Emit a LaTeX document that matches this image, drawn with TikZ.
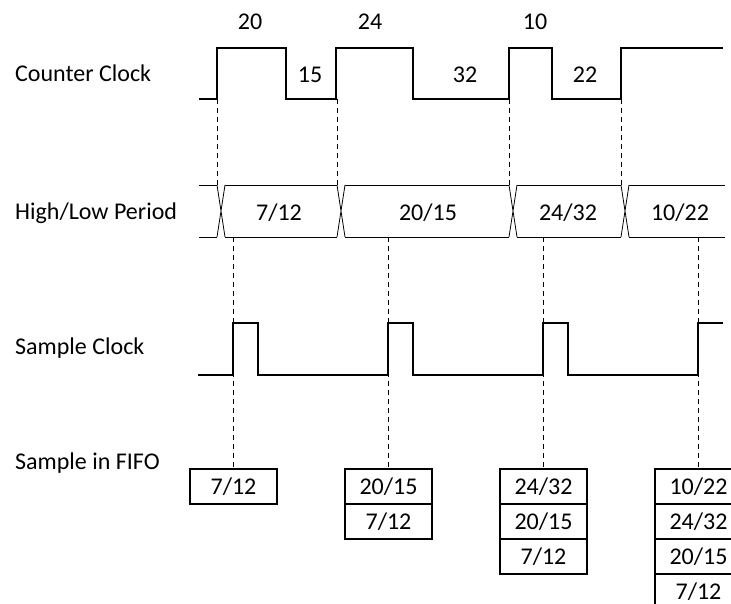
\documentclass[tikz,border=0pt]{standalone}
\usepackage{fontspec}
\setmainfont{Carlito}
\usetikzlibrary{positioning}

\begin{document}
\begin{tikzpicture}[
        x=1pt, y=-1pt,
        every node/.style={font=\fontsize{24}{27}\selectfont, inner sep=0pt},
        signame/.style={anchor=west},
        wave/.style={line width=1.7pt, line join=miter},
        bus/.style={line width=0.8pt},
        guide/.style={line width=0.7pt, dash pattern=on 5pt off 4pt},
        cell/.style={draw, line width=2.3pt, outer sep=0pt, minimum width=87pt, minimum height=35pt}
    ]
        \useasboundingbox (0,0) rectangle (731,603);
        \clip (0,0) rectangle (731,603);

        % signal names
        \node[signame] (cnt) at (15,73) {Counter Clock};
        \node[signame] (hlp) at (15,213) {High/Low Period};
        \node[signame] (smp) at (15,348) {Sample Clock};
        \node[signame] (fifo) at (15,463) {Sample in FIFO};

        % counter clock
        \draw[wave] (199,99) -- (217,99) -- (217,48) -- (286,48) -- (286,99) -- (336,99) -- (336,48)
            -- (413,48) -- (413,99) -- (509,99) -- (509,48) -- (552,48) -- (552,99) -- (621,99)
            -- (621,48) -- (723,48);
        \node (h1) at (250,22) {20};
        \node (l1) at (310,75) {15};
        \node (h2) at (370,22) {24};
        \node (l2) at (465,75) {32};
        \node (h3) at (535,22) {10};
        \node (l3) at (585,75) {22};

        % high/low period bus
        \draw[bus] (199,185) -- (217,185) (199,237) -- (217,237);
        \foreach \a/\b in {225/337, 345/509, 517/621, 629/725}
            \draw[bus] (\a,185) -- (\b,185) (\a,237) -- (\b,237);
        \foreach \x in {217,337,509,621}
            \draw[bus] (\x,185) -- (\x+8,237) (\x,237) -- (\x+8,185);
        \node (p1) at (279,213) {7/12};
        \node (p2) at (428,213) {20/15};
        \node (p3) at (568,213) {24/32};
        \node (p4) at (680,213) {10/22};

        % counter edges
        \foreach \x in {217,337,509,621}
            \draw[guide] (\x,99) -- (\x,185);

        % sample clock
        \draw[wave] (198,375) -- (233,375) -- (233,323) -- (258,323) -- (258,375) -- (388,375)
            -- (388,323) -- (413,323) -- (413,375) -- (543,375) -- (543,323) -- (568,323)
            -- (568,375) -- (698,375) -- (698,323) -- (723,323);

        % sample points
        \foreach \x in {233,388,543,698}
            \draw[guide] (\x,237) -- (\x,469);

        % fifo contents
        \node[cell] (f1a) at (233.5,486.5) {7/12};

        \node[cell] (f2a) at (388.5,486.5) {20/15};
        \node[cell, below=0pt of f2a] (f2b) {7/12};

        \node[cell] (f3a) at (543.5,486.5) {24/32};
        \node[cell, below=0pt of f3a] (f3b) {20/15};
        \node[cell, below=0pt of f3b] (f3c) {7/12};

        \node[cell] (f4a) at (698.5,486.5) {10/22};
        \node[cell, below=0pt of f4a] (f4b) {24/32};
        \node[cell, below=0pt of f4b] (f4c) {20/15};
        \node[cell, below=0pt of f4c] (f4d) {7/12};
    \end{tikzpicture}
\end{document}
